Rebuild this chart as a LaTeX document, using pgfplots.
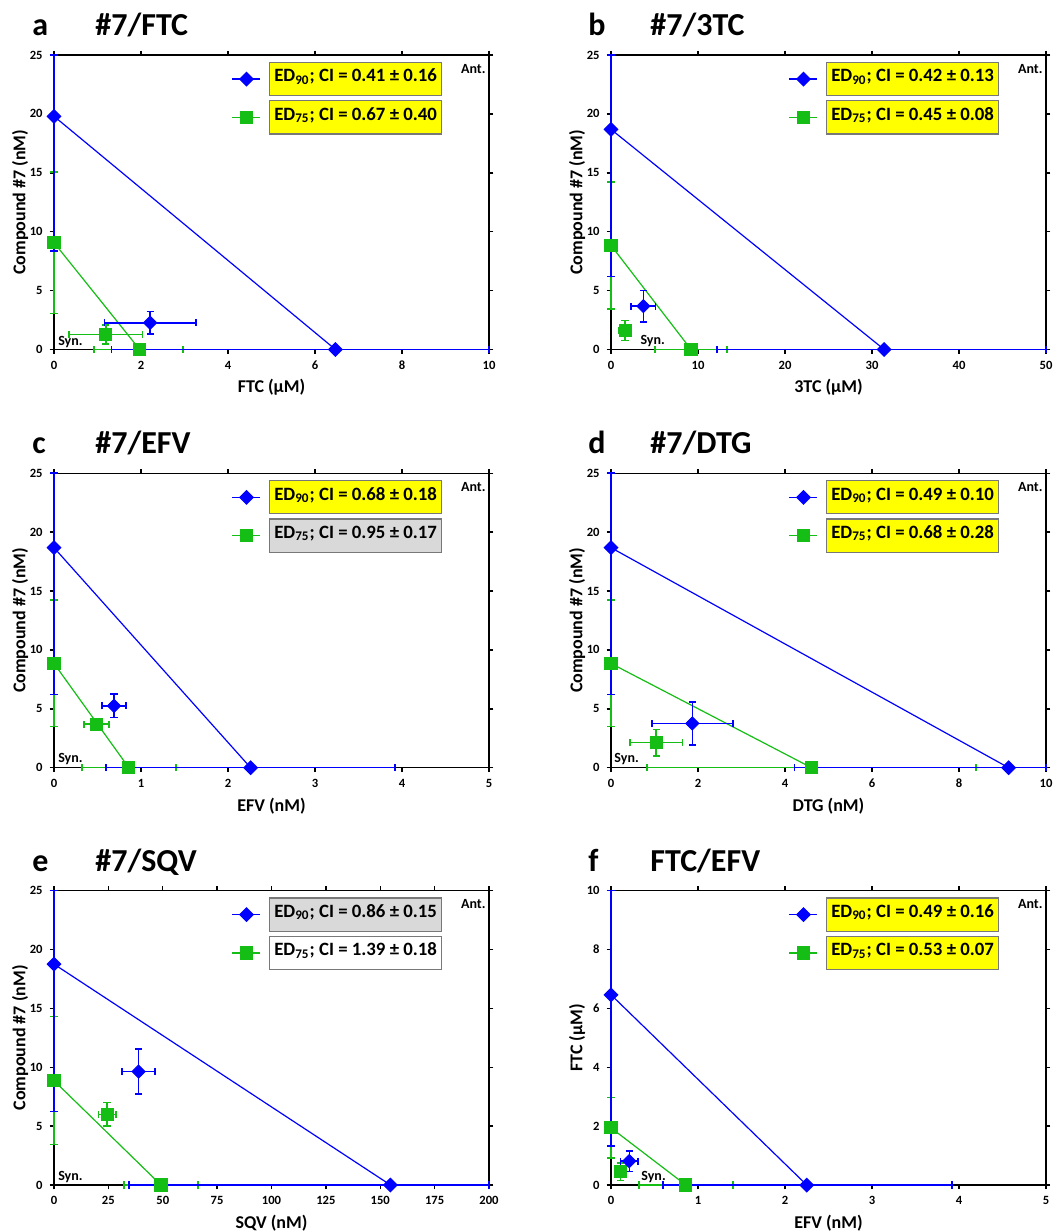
\documentclass[border=0pt]{standalone}
\usepackage{fontspec}
\setmainfont{Carlito}
\usepackage{pgfplots}
\pgfplotsset{compat=1.18}
\definecolor{myblue}{RGB}{0,0,255}
\definecolor{mygreen}{RGB}{20,190,20}
\definecolor{myyellow}{RGB}{255,255,0}
\definecolor{mygrey}{RGB}{217,217,217}
\definecolor{boxborder}{RGB}{120,120,120}
\setlength{\fboxsep}{2pt}
\setlength{\fboxrule}{0.6pt}
\newcommand{\lbox}[2]{\hspace*{4pt}\fcolorbox{boxborder}{#1}{\rule[-4.6pt]{0pt}{12pt}#2}}
\pgfplotsset{
  iso/.style={
    scale only axis, width=217.5pt, height=147.25pt, clip=false,
    axis line style={line width=0.7pt, black},
    tick style={line width=0.7pt, black}, major tick length=2.2pt, tick align=outside,
    xtick pos=both, ytick pos=both, xticklabel pos=bottom, yticklabel pos=left,
    tick label style={font=\bfseries\fontsize{6.3}{7}\selectfont},
    /pgf/number format/assume math mode=true,
    label style={font=\bfseries\fontsize{9}{10}\selectfont},
    xlabel style={at={(axis description cs:0.5,-0.129)}, anchor=center},
    ylabel style={at={(axis description cs:-0.078,0.5)}, anchor=center},
    ymin=0,
    legend style={at={(rel axis cs:0.408,0.978)}, anchor=north west, draw=none, fill=none,
      inner sep=0pt, row sep=2pt, font=\bfseries\fontsize{9.4}{10}\selectfont,
      nodes={inner sep=0pt, text depth=},
      cells={anchor=west}},
    legend image code/.code={\draw[mark repeat=2, mark phase=2] plot coordinates {(0pt,0pt) (7pt,0pt) (14pt,0pt)};},
    reverse legend,
    error bars/error bar style={line width=0.75pt, solid},
    error bars/error mark options={rotate=90, mark size=1.8pt, line width=0.75pt},
  },
  gline/.style={color=mygreen, line width=0.6pt, mark=square*, mark size=3pt, mark options={solid, fill=mygreen},
    error bars/.cd, x dir=both, x explicit, y dir=both, y explicit},
  bline/.style={color=myblue, line width=0.6pt, mark=square*, mark size=2.35pt, mark options={solid, rotate=45, fill=myblue},
    error bars/.cd, x dir=both, x explicit, y dir=both, y explicit},
  gpt/.style={color=mygreen, only marks, mark=square*, mark size=3pt, mark options={solid, fill=mygreen}, forget plot,
    error bars/.cd, x dir=both, x explicit, y dir=both, y explicit},
  bpt/.style={color=myblue, only marks, mark=square*, mark size=2.35pt, mark options={solid, rotate=45, fill=myblue}, forget plot,
    error bars/.cd, x dir=both, x explicit, y dir=both, y explicit},
}
\newcommand{\antsyn}[2]{%
  \node[anchor=north east, font=\bfseries\fontsize{7}{8}\selectfont, inner sep=0pt] at (rel axis cs:0.993,0.97) {Ant.};
  \node[anchor=base west, font=\bfseries\fontsize{7}{8}\selectfont, inner sep=0pt] at (rel axis cs:#1,#2) {Syn.};}
\begin{document}
\begin{tikzpicture}
\useasboundingbox (0,0) rectangle (531pt,-616pt);
% titles
\node[anchor=base west, font=\bfseries\fontsize{16}{18}\selectfont, inner sep=0pt] at (16pt,-17.5pt) {a};
\node[anchor=base west, font=\bfseries\fontsize{16}{18}\selectfont, inner sep=0pt] at (47.5pt,-17.5pt) {\#7/FTC};
\node[anchor=base west, font=\bfseries\fontsize{16}{18}\selectfont, inner sep=0pt] at (294pt,-17.5pt) {b};
\node[anchor=base west, font=\bfseries\fontsize{16}{18}\selectfont, inner sep=0pt] at (325pt,-17.5pt) {\#7/3TC};
\node[anchor=base west, font=\bfseries\fontsize{16}{18}\selectfont, inner sep=0pt] at (16pt,-226.5pt) {c};
\node[anchor=base west, font=\bfseries\fontsize{16}{18}\selectfont, inner sep=0pt] at (47.5pt,-226.5pt) {\#7/EFV};
\node[anchor=base west, font=\bfseries\fontsize{16}{18}\selectfont, inner sep=0pt] at (294pt,-226.5pt) {d};
\node[anchor=base west, font=\bfseries\fontsize{16}{18}\selectfont, inner sep=0pt] at (325pt,-226.5pt) {\#7/DTG};
\node[anchor=base west, font=\bfseries\fontsize{16}{18}\selectfont, inner sep=0pt] at (16pt,-435.5pt) {e};
\node[anchor=base west, font=\bfseries\fontsize{16}{18}\selectfont, inner sep=0pt] at (47.5pt,-435.5pt) {\#7/SQV};
\node[anchor=base west, font=\bfseries\fontsize{16}{18}\selectfont, inner sep=0pt] at (294pt,-435.5pt) {f};
\node[anchor=base west, font=\bfseries\fontsize{16}{18}\selectfont, inner sep=0pt] at (325pt,-435.5pt) {FTC/EFV};

% ---------- a ----------
\begin{axis}[iso, at={(27pt,-174.75pt)}, anchor=south west,
  xmin=0, xmax=10, xtick={0,2,...,10}, ymax=25, ytick={0,5,...,25},
  xlabel={FTC (µM)}, ylabel={Compound \#7 (nM)}]
\addplot[gline] table[x=x, y=y, x error plus=exp, x error minus=exm, y error plus=eyp, y error minus=eym] {
x y exp exm eyp eym
0 9.07 0 0 6.0 6.0
1.97 0 0.99 1.05 0 0
};
\addlegendentry{\lbox{myyellow}{ED\textsubscript{75}; CI = 0.67 ± 0.40}}
\addplot[bline] table[x=x, y=y, x error plus=exp, x error minus=exm, y error plus=eyp, y error minus=eym] {
x y exp exm eyp eym
0 19.8 0 0 5.2 11.44
6.47 0 3.53 5.15 0 0
};
\addlegendentry{\lbox{myyellow}{ED\textsubscript{90}; CI = 0.41 ± 0.16}}
\addplot[gpt] coordinates {(1.19,1.28) +- (0.85,0.8)};
\addplot[bpt] coordinates {(2.21,2.27) +- (1.05,0.95)};
\antsyn{0.009}{0.015}
\end{axis}

% ---------- b ----------
\begin{axis}[iso, at={(305.5pt,-174.75pt)}, anchor=south west,
  xmin=0, xmax=50, xtick={0,10,...,50}, ymax=25, ytick={0,5,...,25},
  xlabel={3TC (µM)}, ylabel={Compound \#7 (nM)}]
\addplot[gline] table[x=x, y=y, x error plus=exp, x error minus=exm, y error plus=eyp, y error minus=eym] {
x y exp exm eyp eym
0 8.84 0 0 5.4 5.4
9.2 0 4.12 4.12 0 0
};
\addlegendentry{\lbox{myyellow}{ED\textsubscript{75}; CI = 0.45 ± 0.08}}
\addplot[bline] table[x=x, y=y, x error plus=exp, x error minus=exm, y error plus=eyp, y error minus=eym] {
x y exp exm eyp eym
0 18.69 0 0 6.31 12.49
31.4 0 18.6 19.2 0 0
};
\addlegendentry{\lbox{myyellow}{ED\textsubscript{90}; CI = 0.42 ± 0.13}}
\addplot[gpt] coordinates {(1.61,1.61) +- (0.7,0.85)};
\addplot[bpt] coordinates {(3.72,3.68) +- (1.4,1.33)};
\antsyn{0.067}{0.018}
\end{axis}

% ---------- c ----------
\begin{axis}[iso, at={(27pt,-383.85pt)}, anchor=south west,
  xmin=0, xmax=5, xtick={0,1,...,5}, ymax=25, ytick={0,5,...,25},
  xlabel={EFV (nM)}, ylabel={Compound \#7 (nM)}]
\addplot[gline] table[x=x, y=y, x error plus=exp, x error minus=exm, y error plus=eyp, y error minus=eym] {
x y exp exm eyp eym
0 8.85 0 0 5.37 5.37
0.86 0 0.54 0.54 0 0
};
\addlegendentry{\lbox{mygrey}{ED\textsubscript{75}; CI = 0.95 ± 0.17}}
\addplot[bline] table[x=x, y=y, x error plus=exp, x error minus=exm, y error plus=eyp, y error minus=eym] {
x y exp exm eyp eym
0 18.68 0 0 6.32 12.46
2.26 0 1.66 1.66 0 0
};
\addlegendentry{\lbox{myyellow}{ED\textsubscript{90}; CI = 0.68 ± 0.18}}
\addplot[gpt] coordinates {(0.49,3.7) +- (0.145,0.3)};
\addplot[bpt] coordinates {(0.69,5.25) +- (0.14,1.0)};
\antsyn{0.009}{0.018}
\end{axis}

% ---------- d ----------
\begin{axis}[iso, at={(305.5pt,-383.85pt)}, anchor=south west,
  xmin=0, xmax=10, xtick={0,2,...,10}, ymax=25, ytick={0,5,...,25},
  xlabel={DTG (nM)}, ylabel={Compound \#7 (nM)}]
\addplot[gline] table[x=x, y=y, x error plus=exp, x error minus=exm, y error plus=eyp, y error minus=eym] {
x y exp exm eyp eym
0 8.85 0 0 5.37 5.37
4.61 0 3.78 3.78 0 0
};
\addlegendentry{\lbox{myyellow}{ED\textsubscript{75}; CI = 0.68 ± 0.28}}
\addplot[bline] table[x=x, y=y, x error plus=exp, x error minus=exm, y error plus=eyp, y error minus=eym] {
x y exp exm eyp eym
0 18.68 0 0 6.32 12.48
9.14 0 0.86 4.92 0 0
};
\addlegendentry{\lbox{myyellow}{ED\textsubscript{90}; CI = 0.49 ± 0.10}}
\addplot[gpt] coordinates {(1.04,2.12) +- (0.6,1.13)};
\addplot[bpt] coordinates {(1.87,3.76) +- (0.93,1.83)};
\antsyn{0.007}{0.018}
\end{axis}

% ---------- e ----------
\begin{axis}[iso, at={(27pt,-592.5pt)}, anchor=south west,
  xmin=0, xmax=200, xtick={0,25,...,200}, ymax=25, ytick={0,5,...,25},
  xlabel={SQV (nM)}, ylabel={Compound \#7 (nM)}]
\addplot[gline] table[x=x, y=y, x error plus=exp, x error minus=exm, y error plus=eyp, y error minus=eym] {
x y exp exm eyp eym
0 8.86 0 0 5.43 5.43
49.2 0 17.1 17.1 0 0
};
\addlegendentry{\lbox{white}{ED\textsubscript{75}; CI = 1.39 ± 0.18}}
\addplot[bline] table[x=x, y=y, x error plus=exp, x error minus=exm, y error plus=eyp, y error minus=eym] {
x y exp exm eyp eym
0 18.75 0 0 6.25 12.52
154.7 0 45.3 120.3 0 0
};
\addlegendentry{\lbox{mygrey}{ED\textsubscript{90}; CI = 0.86 ± 0.15}}
\addplot[gpt] coordinates {(24.4,6.0) +- (4,1.0)};
\addplot[bpt] coordinates {(38.9,9.63) +- (7.6,1.9)};
\antsyn{0.009}{0.017}
\end{axis}

% ---------- f ----------
\begin{axis}[iso, at={(305.5pt,-592.5pt)}, anchor=south west,
  xmin=0, xmax=5, xtick={0,1,...,5}, ymax=10, ytick={0,2,...,10},
  xlabel={EFV (nM)}, ylabel={FTC (µM)}]
\addplot[gline] table[x=x, y=y, x error plus=exp, x error minus=exm, y error plus=eyp, y error minus=eym] {
x y exp exm eyp eym
0 1.94 0 0 1.03 1.03
0.86 0 0.54 0.54 0 0
};
\addlegendentry{\lbox{myyellow}{ED\textsubscript{75}; CI = 0.53 ± 0.07}}
\addplot[bline] table[x=x, y=y, x error plus=exp, x error minus=exm, y error plus=eyp, y error minus=eym] {
x y exp exm eyp eym
0 6.46 0 0 3.54 5.14
2.25 0 1.67 1.65 0 0
};
\addlegendentry{\lbox{myyellow}{ED\textsubscript{90}; CI = 0.49 ± 0.16}}
\addplot[gpt] coordinates {(0.107,0.45) +- (0.05,0.3)};
\addplot[bpt] coordinates {(0.21,0.81) +- (0.1,0.35)};
\antsyn{0.069}{0.017}
\end{axis}
\end{tikzpicture}
\end{document}
